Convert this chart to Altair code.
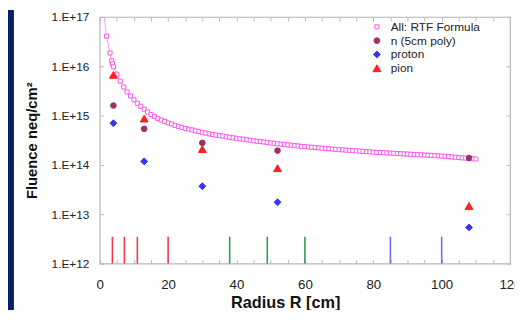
import altair as alt
import pandas as pd

# ---------------- data ----------------
series_names = ["All: RTF Formula", "n (5cm poly)", "proton", "pion"]

# RTF formula curve (radius in cm, log10 of fluence)
rtf_r = [1, 2, 3, 3.5, 3.75] + list(range(4, 111))
rtf_log10 = [
    17.20, 16.61, 16.27, 16.11, 16.05,
    15.99, 15.84, 15.70, 15.58, 15.48, 15.40, 15.32, 15.25, 15.19, 15.13,
    15.07, 15.02, 14.98, 14.94, 14.91, 14.88, 14.85, 14.83, 14.80, 14.78,
    14.76, 14.74, 14.725, 14.71, 14.69, 14.675, 14.66, 14.645, 14.63, 14.615,
    14.605, 14.595, 14.585, 14.57, 14.56, 14.55, 14.54, 14.53, 14.52, 14.51,
    14.50, 14.49, 14.48, 14.475, 14.465, 14.455, 14.445, 14.44, 14.43, 14.42,
    14.415, 14.405, 14.40, 14.39, 14.385, 14.375, 14.37, 14.364, 14.358, 14.352,
    14.346, 14.34, 14.334, 14.328, 14.322, 14.316, 14.31, 14.305, 14.30, 14.295,
    14.29, 14.285, 14.28, 14.275, 14.27, 14.265, 14.26, 14.256, 14.252, 14.248,
    14.244, 14.24, 14.236, 14.232, 14.228, 14.224, 14.22, 14.216, 14.212, 14.208,
    14.204, 14.20, 14.196, 14.192, 14.188, 14.184, 14.18, 14.174, 14.168, 14.162,
    14.156, 14.15, 14.144, 14.138, 14.132, 14.126, 14.12,
]

# measured points
meas_r = [4, 13, 30, 52, 108]
n_poly = [1.6e15, 5.4e14, 2.8e14, 1.95e14, 1.38e14]
proton = [7.0e14, 1.18e14, 3.7e13, 1.75e13, 5.4e12]
pion = [6.7e15, 8.7e14, 2.1e14, 8.6e13, 1.47e13]

# detector layer positions (vertical markers)
layer_r = [3.7, 7.2, 11, 20, 38, 49, 60, 85, 100]
layer_group = ["inner", "inner", "inner", "inner", "middle", "middle", "middle", "outer", "outer"]
layer_low = 1e12
layer_high = 3.5e12

x_major = [0, 20, 40, 60, 80, 100, 120]
x_minor = list(range(0, 121, 5))
y_decades = [1e12, 1e13, 1e14, 1e15, 1e16, 1e17]

# ---------------- tables ----------------
rtf_df = pd.DataFrame({
    "r": rtf_r,
    "fluence": [10 ** v for v in rtf_log10],
    "series": series_names[0],
})
meas_rows = []
for name, vals in zip(series_names[1:], [n_poly, proton, pion]):
    for r, v in zip(meas_r, vals):
        meas_rows.append({"r": r, "fluence": v, "series": name})
points_df = pd.concat([rtf_df, pd.DataFrame(meas_rows)], ignore_index=True)

layers_df = pd.DataFrame({
    "r": layer_r,
    "group": layer_group,
    "low": [layer_low] * len(layer_r),
    "high": [layer_high] * len(layer_r),
})

W, H = 416, 250
FONT = "Liberation Sans"

x_scale = alt.Scale(domain=[0, 120], nice=False, zero=False)
y_scale = alt.Scale(type="log", domain=[1e12, 1e17], nice=False)

main_x_axis = alt.Axis(
    orient="bottom",
    values=x_major, ticks=False, tickSize=0, domain=False, grid=False,
    labelFontSize=13.5, labelColor="#222222", labelPadding=21,
    labelBaseline="middle", labelFlush=False, labelOverlap=False,
    title="Radius R [cm]", titleFontSize=16.5, titleFontWeight="bold",
    titleColor="#111111", titleX=188, titleY=45, titleAlign="center",
    titleBaseline="alphabetic", titleAnchor="start",
)
main_y_axis = alt.Axis(
    orient="left",
    values=y_decades, ticks=False, tickSize=0, domain=False, grid=False,
    labelExpr="'1.E+' + round(log(datum.value) / LN10)",
    labelFontSize=12, labelColor="#222222", labelPadding=11,
    labelFlush=False, labelOverlap=False,
    title="Fluence neq/cm²", titleFontSize=15, titleFontWeight="bold",
    titleColor="#111111", titleX=-69, titleY=125, titleAngle=270,
    titleAlign="center", titleBaseline="middle", titleAnchor="start",
)

tick_color = "#b8b8b8"

def tick_axis(orient, values, offset):
    return alt.Axis(
        orient=orient, values=values, offset=offset, labels=False,
        domain=False, grid=False, ticks=True, tickSize=4,
        tickColor=tick_color, tickWidth=1, title=None,
    )

# navy strip on the left edge
strip = alt.Chart(pd.DataFrame({"k": [0]})).mark_rect(
    color="#0b1f63", clip=False
).encode(
    x=alt.value(-93), x2=alt.value(-87), y=alt.value(-7), y2=alt.value(305)
)

# RTF connecting line (carries the main axes)
rtf_line = alt.Chart(rtf_df).mark_line(
    color="#ff8cf0", strokeWidth=0.9, clip=True
).encode(
    x=alt.X("r:Q", scale=x_scale, axis=main_x_axis),
    y=alt.Y("fluence:Q", scale=y_scale, axis=main_y_axis),
    order="r:Q",
)

# all markers with legend (carries inward ticks at bottom and left)
pts = alt.Chart(points_df).mark_point(
    filled=True, strokeWidth=1, opacity=1, clip=True
).encode(
    x=alt.X("r:Q", scale=x_scale, axis=tick_axis("top", x_minor, -H)),
    y=alt.Y("fluence:Q", scale=y_scale, axis=tick_axis("right", y_decades, -W)),
    fill=alt.Fill("series:N", scale=alt.Scale(
        domain=series_names,
        range=["#ffffff", "#993366", "#3535f5", "#ff1f1f"]),
        legend=alt.Legend(title=None)),
    stroke=alt.Stroke("series:N", scale=alt.Scale(
        domain=series_names,
        range=["#ff55ee", "#993366", "#3535f5", "#ff1f1f"]),
        legend=alt.Legend(title=None)),
    shape=alt.Shape("series:N", scale=alt.Scale(
        domain=series_names,
        range=["square", "circle", "diamond", "triangle-up"]),
        legend=alt.Legend(title=None)),
    size=alt.Size("series:N", scale=alt.Scale(
        domain=series_names, range=[17, 64, 50, 70]),
        legend=alt.Legend(title=None)),
)

# vertical layer markers (carries inward ticks at top and right)
rules = alt.Chart(layers_df).mark_rule(strokeWidth=1.6).encode(
    x=alt.X("r:Q", scale=x_scale, axis=tick_axis("bottom", x_minor, -H)),
    y=alt.Y("low:Q", scale=y_scale, axis=tick_axis("left", y_decades, -W)),
    y2="high:Q",
    color=alt.Color("group:N", scale=alt.Scale(
        domain=["inner", "middle", "outer"],
        range=["#ff3348", "#2f9a58", "#6b6bf5"]), legend=None),
)

chart = alt.layer(rtf_line, strip, rules, pts).resolve_scale(
    x="shared", y="shared"
).resolve_axis(
    x="independent", y="independent"
).properties(
    width=W, height=H,
    autosize=alt.AutoSizeParams(type="none"),
    padding={"left": 93, "top": 7, "right": 5, "bottom": 45},
    background="#ffffff",
).configure(
    font=FONT,
).configure_view(
    stroke="#b5b5b5", strokeWidth=1.2,
).configure_legend(
    orient="none", legendX=275, legendY=4,
    labelFontSize=12, labelColor="#222222", labelFont=FONT,
    rowPadding=2, labelOffset=8, symbolStrokeWidth=1, padding=0,
)

chart.save("out.html", embed_options={"renderer": "svg", "actions": False})
